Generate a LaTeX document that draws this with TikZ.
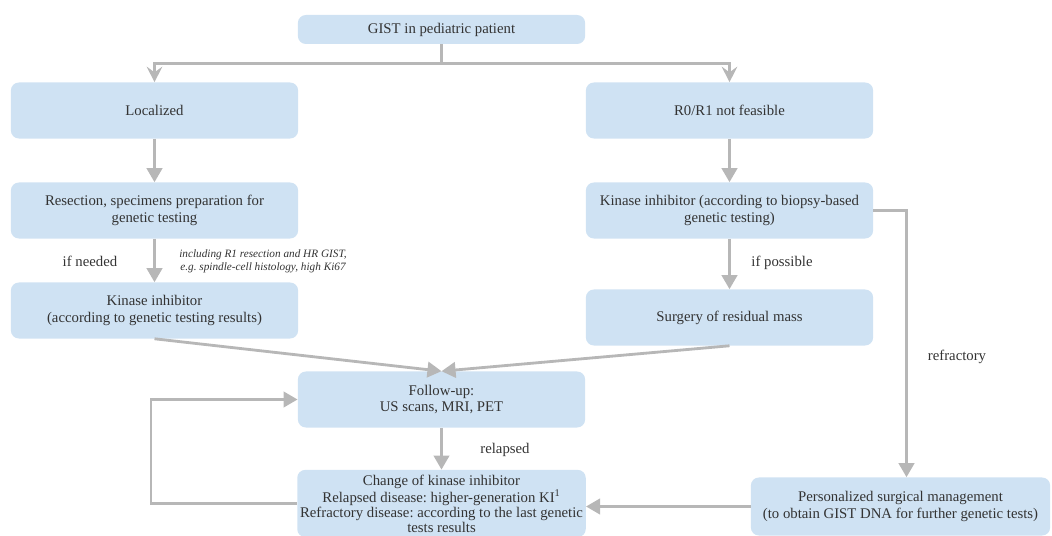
\documentclass[tikz,border=0pt]{standalone}
\usepackage{fontspec}
\setmainfont{Liberation Serif}
\usetikzlibrary{arrows.meta}
\definecolor{boxblue}{HTML}{CFE2F3}
\definecolor{linegray}{HTML}{B7B7B7}
\definecolor{textdark}{HTML}{333333}
\frenchspacing

\begin{document}
\begin{tikzpicture}[x=0.025cm, y=-0.025cm,
  box/.style={fill=boxblue, rounded corners=0.2cm, align=center, text=textdark,
    font=\fontsize{10.5}{12}\selectfont, minimum width=7.18cm, minimum height=1.4cm, inner sep=2pt},
  flow/.style={draw=linegray, line width=2pt, -{Triangle[width=11pt,length=10pt]}},
  split/.style={draw=linegray, line width=2pt, -{Stealth[width=11pt,length=11pt,inset=4pt]}},
  lbl/.style={text=textdark, font=\fontsize{10.5}{12}\selectfont},
  note/.style={text=textdark, align=center, font=\fontsize{8}{9.5}\selectfont\itshape}]
\useasboundingbox (0,0) rectangle (1052,536);
% Boxes
\node[box, minimum height=0.725cm] (gist) at (441.5,29.5) {GIST in pediatric patient};
\node[box] (loc)  at (154.5,110.5) {Localized};
\node[box] (nf)   at (729.5,110.5) {R0/R1 not feasible};
\node[box] (res)  at (154.5,210.5) {Resection, specimens preparation for\\genetic testing};
\node[box] (kbio) at (729.5,210.5) {Kinase inhibitor (according to biopsy-based\\genetic testing)};
\node[box] (kgen) at (154.5,310.5) {Kinase inhibitor\\(according to genetic testing results)};
\node[box] (surg) at (729.5,317.5) {Surgery of residual mass};
\node[box] (fol)  at (441.5,399.5) {Follow-up:\\US scans, MRI, PET};
\node[box, minimum height=1.68cm, font=\fontsize{10.5}{10.6}\selectfont] (chg) at (441.5,503.5) {Change of kinase inhibitor\\Relapsed disease: higher-generation KI\textsuperscript{1}\\Refractory disease: according to the last genetic\\tests results};
\node[box, minimum width=7.48cm, minimum height=1.45cm] (pers) at (900.5,506.5) {Personalized surgical management\\(to obtain GIST DNA for further genetic tests)};
% Labels
\node[lbl] (lneed) at (90,261) {if needed};
\node[note] (lincl) at (263,261) {including R1 resection and HR GIST,\\e.g. spindle-cell histology, high Ki67};
\node[lbl] (lposs) at (782,263) {if possible};
\node[lbl] (lrefr) at (957,357) {refractory};
\node[lbl] (lrel)  at (505,450) {relapsed};
% Connectors
\draw[split] (gist.south) -- ++(0,19) -| (loc.north);
\draw[split] (gist.south) -- ++(0,19) -| (nf.north);
\draw[flow] (loc) -- (res);
\draw[flow] (res) -- (kgen);
\draw[flow] (nf) -- (kbio);
\draw[flow] (kbio) -- (surg);
\draw[flow] (kgen.south) -- (fol.north);
\draw[flow] (surg.south) -- (fol.north);
\draw[flow] (kbio.east) -| ([xshift=0.15cm]pers.north);
\draw[flow] (fol) -- (chg);
\draw[flow] (pers.west) -- (pers.west -| chg.east);
\draw[flow] (chg.west) -- ++(-146,0) |- (fol.west);
\end{tikzpicture}
\end{document}
